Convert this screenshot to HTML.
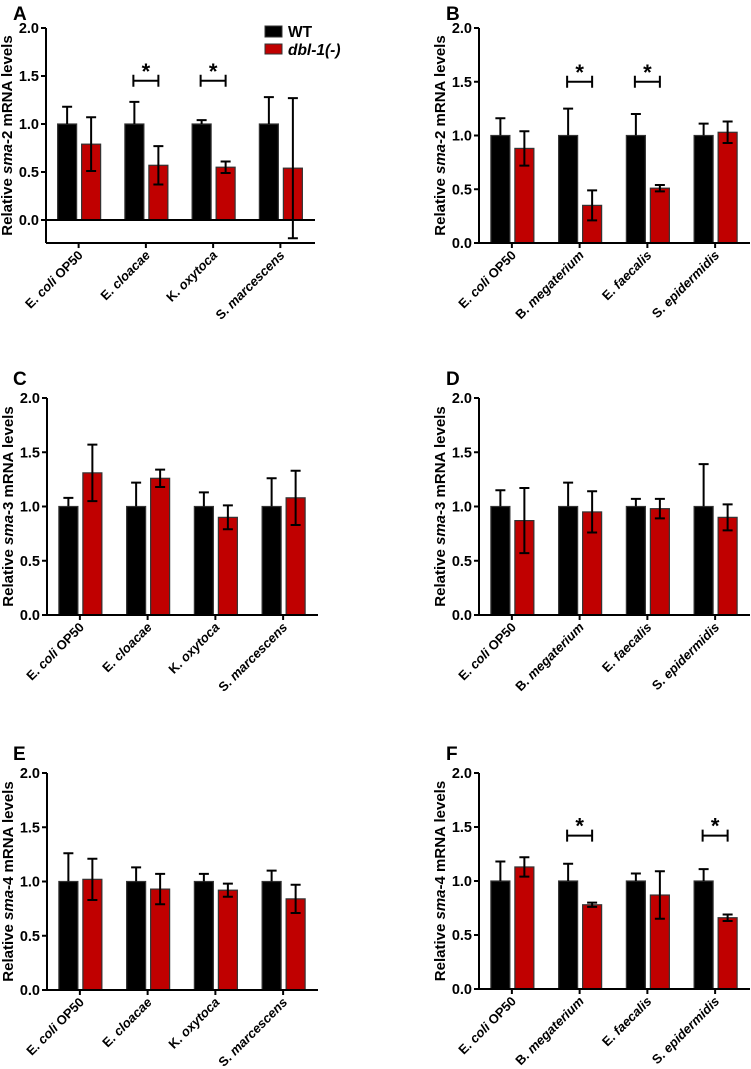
<!DOCTYPE html>
<html><head><meta charset="utf-8">
<style>
html,body{margin:0;padding:0;background:#fff;}
svg{display:block;font-family:"Liberation Sans",Arial,sans-serif;}
</style></head>
<body>
<svg id="fig" width="751" height="1069" viewBox="0 0 751 1069" xmlns="http://www.w3.org/2000/svg"></svg>
<script>
// Categories
const catsLeft = ["E. coli|OP50", "E. cloacae", "K. oxytoca", "S. marcescens"];
const catsRight = ["E. coli|OP50", "B. megaterium", "E. faecalis", "S. epidermidis"];
const yTicks = ["0.0","0.5","1.0","1.5","2.0"];
// Panel A (sma-2)
const aWT = [1,1,1,1];
const aWTerr = [0.18,0.23,0.04,0.28];
const aMut = [0.79,0.57,0.55,0.54];
const aMutErr = [0.28,0.20,0.06,0.73];
const aSig = [1,2];
// Panel B (sma-2)
const bWT = [1,1,1,1];
const bWTerr = [0.16,0.25,0.20,0.11];
const bMut = [0.88,0.35,0.51,1.03];
const bMutErr = [0.16,0.14,0.03,0.10];
const bSig = [1,2];
// Panel C (sma-3)
const cWT = [1,1,1,1];
const cWTerr = [0.08,0.22,0.13,0.26];
const cMut = [1.31,1.26,0.90,1.08];
const cMutErr = [0.26,0.08,0.11,0.25];
const cSig = [];
// Panel D (sma-3)
const dWT = [1,1,1,1];
const dWTerr = [0.15,0.22,0.07,0.39];
const dMut = [0.87,0.95,0.98,0.90];
const dMutErr = [0.30,0.19,0.09,0.12];
const dSig = [];
// Panel E (sma-4)
const eWT = [1,1,1,1];
const eWTerr = [0.26,0.13,0.07,0.10];
const eMut = [1.02,0.93,0.92,0.84];
const eMutErr = [0.19,0.14,0.06,0.13];
const eSig = [];
// Panel F (sma-4)
const fWT = [1,1,1,1];
const fWTerr = [0.18,0.16,0.07,0.11];
const fMut = [1.13,0.78,0.87,0.66];
const fMutErr = [0.09,0.02,0.22,0.03];
const fSig = [1,3];

const NS="http://www.w3.org/2000/svg";
const svg=document.getElementById('fig');
function mk(tag,attrs,parent){const e=document.createElementNS(NS,tag);for(const k in attrs)e.setAttribute(k,attrs[k]);(parent||svg).appendChild(e);return e;}

function panel(cfg){
  const g=mk('g',{});
  
  
  const x0=cfg.x0, x1=cfg.x1, yZero=cfg.yZero, yTop=cfg.yTop, yMin=cfg.yMin;
  const yScale=v=>yZero-(v/2)*(yZero-yTop);
  const bottom=yScale(yMin);
  const step=(x1-x0)/4;
  const xc=i=>x0+step*(i+0.5)-1;
  const L=mk('text',{x:cfg.lx,y:cfg.ly,'font-size':19,'font-weight':'bold'},g);L.textContent=cfg.letter;
  
  
  const tx=x0-34, ty=(yTop+bottom)/2;
  const yt=mk('text',{x:tx,y:ty,'font-size':15,'font-weight':'bold','text-anchor':'middle',transform:`rotate(-90 ${tx} ${ty})`},g);
  
  
  yt.innerHTML='Relative <tspan font-style="italic">'+cfg.gene.split('-')[0]+'</tspan>-'+cfg.gene.split('-')[1]+' mRNA levels';
  for(let i=0;i<4;i++){
    const c=xc(i);
    const wtTop=yScale(cfg.wt[i]);
    const b1=mk('rect',{x:c-21,y:wtTop,width:19,height:yZero-wtTop,fill:'#000',stroke:'#333','stroke-width':1.2},g);
    
    
    const e1=yScale(cfg.wt[i]+cfg.wtErr[i]);
    mk('path',{d:`M${c-11.5},${wtTop} V${e1} M${c-16.5},${e1} H${c-6.5}`,stroke:'#000','stroke-width':2,fill:'none'},g);
    const v=cfg.mut[i], mTop=yScale(Math.max(v,0));
    const b2=mk('rect',{x:c+3,y:mTop,width:19,height:yZero-mTop,fill:'#c00000',stroke:'#333','stroke-width':1.2},g);
    
    
    const hi=yScale(v+cfg.mutErr[i]), lo=yScale(v-cfg.mutErr[i]);
    const eb=mk('path',{d:`M${c+12.5},${hi} V${lo} M${c+7.5},${hi} H${c+17.5} M${c+7.5},${lo} H${c+17.5}`,stroke:'#000','stroke-width':2,fill:'none'},g);
    
    
  }
  const ax=mk('path',{d:`M${x0},${yTop} V${bottom} M${x0},${yZero} H${x1}`,stroke:'#000','stroke-width':2,fill:'none'},g);
  
  
  if(yMin<0) mk('path',{d:`M${x0},${bottom} H${x1}`,stroke:'#000','stroke-width':2},g);
  yTicks.forEach((t)=>{
    const y=yScale(parseFloat(t));
    mk('path',{d:`M${x0-5},${y} H${x0}`,stroke:'#000','stroke-width':2},g);
    const tl=mk('text',{x:x0-7,y:y+5,'font-size':14.5,'font-weight':'bold','text-anchor':'end'},g);tl.textContent=t;
    
    
  });
  cfg.cats.forEach((c,i)=>{
    const x=xc(i);
    mk('path',{d:`M${x},${bottom} V${bottom+5}`,stroke:'#000','stroke-width':2},g);
    const lx=x+5, ly=bottom+13;
    const t=mk('text',{x:lx,y:ly,'font-size':13,'font-weight':'bold','text-anchor':'end',transform:`rotate(-45 ${lx} ${ly})`},g);
    
    
    const parts=c.split('|');
    const sp=parts[0].split(' ');
    t.innerHTML=sp[0]+' <tspan font-style="italic">'+sp.slice(1).join(' ')+'</tspan>'+(parts[1]?' '+parts[1]:'');
  });
  cfg.sig.forEach(i=>{
    const c=xc(i), y=yScale(cfg.sigY);
    const s=mk('path',{d:`M${c-12.5},${y} H${c+12.5} M${c-12.5},${y-6} V${y+6} M${c+12.5},${y-6} V${y+6}`,stroke:'#000','stroke-width':2,fill:'none'},g);
    
    
    const st=mk('text',{x:c,y:y-2,'font-size':22,'font-weight':'bold','text-anchor':'middle'},g);st.textContent='*';
    
    
  });
}

panel({letter:'A',lx:13,ly:20,gene:'sma-2',x0:46,x1:315,yTop:28,yZero:220,yMin:-0.24,cats:catsLeft,wt:aWT,wtErr:aWTerr,mut:aMut,mutErr:aMutErr,sig:aSig,sigY:1.45});
panel({letter:'B',lx:446,ly:20,gene:'sma-2',x0:479,x1:750,yTop:28,yZero:243,yMin:0,cats:catsRight,wt:bWT,wtErr:bWTerr,mut:bMut,mutErr:bMutErr,sig:bSig,sigY:1.5});
panel({letter:'C',lx:13,ly:385,gene:'sma-3',x0:47,x1:318,yTop:398,yZero:615,yMin:0,cats:catsLeft,wt:cWT,wtErr:cWTerr,mut:cMut,mutErr:cMutErr,sig:cSig,sigY:1.5});
panel({letter:'D',lx:446,ly:385,gene:'sma-3',x0:479,x1:750,yTop:398,yZero:615,yMin:0,cats:catsRight,wt:dWT,wtErr:dWTerr,mut:dMut,mutErr:dMutErr,sig:dSig,sigY:1.5});
panel({letter:'E',lx:13,ly:760,gene:'sma-4',x0:47,x1:318,yTop:773,yZero:990,yMin:0,cats:catsLeft,wt:eWT,wtErr:eWTerr,mut:eMut,mutErr:eMutErr,sig:eSig,sigY:1.5});
panel({letter:'F',lx:446,ly:760,gene:'sma-4',x0:479,x1:750,yTop:773,yZero:989,yMin:0,cats:catsRight,wt:fWT,wtErr:fWTerr,mut:fMut,mutErr:fMutErr,sig:fSig,sigY:1.42});

const lg=mk('g',{});


const l1=mk('rect',{x:265,y:26,width:17,height:11,fill:'#000',stroke:'#333'},lg);


const t1=mk('text',{x:288,y:37,'font-size':15.5,'font-weight':'bold'},lg);t1.textContent='WT';


const l2=mk('rect',{x:265,y:44,width:17,height:10,fill:'#c00000',stroke:'#333'},lg);


const t2=mk('text',{x:288,y:55,'font-size':15.5,'font-weight':'bold','font-style':'italic'},lg);t2.textContent='dbl-1(-)';


</script>
</body></html>
